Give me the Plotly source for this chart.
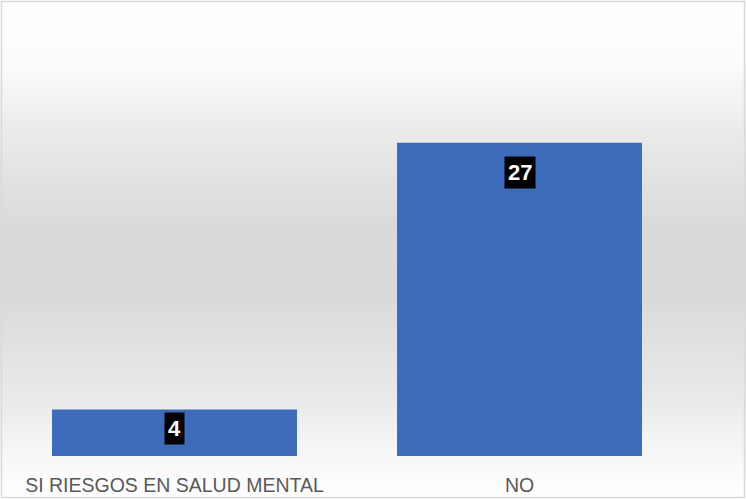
import plotly.graph_objects as go

categories = ["SI RIESGOS EN SALUD MENTAL", "NO"]
values = [4, 27]
label_shift = [-2, -13]

W, H = 746, 499
fig = go.Figure()
fig.add_trace(go.Bar(
    x=categories, y=values,
    marker=dict(color="#3d6bbb", line=dict(width=0)),
    hoverinfo="skip",
))

# background vertical gradient (paper coords, full figure)
stops = [(0, (255, 255, 255)), (60, (252, 252, 252)), (130, (235, 235, 235)),
         (230, (217, 217, 217)), (300, (218, 218, 218)), (400, (234, 234, 234)),
         (460, (248, 248, 248)), (499, (255, 255, 255))]

def col(py):
    for (a, ca), (b, cb) in zip(stops[:-1], stops[1:]):
        if a <= py <= b:
            t = (py - a) / (b - a)
            return "rgb(%d,%d,%d)" % tuple(round(ca[i] + (cb[i] - ca[i]) * t) for i in range(3))
    return "rgb(255,255,255)"

shapes = []
step = 4
for py in range(0, H, step):
    shapes.append(dict(type="rect", xref="paper", yref="paper", layer="below",
                       x0=0, x1=1, y0=1 - (py + step) / H, y1=1 - py / H,
                       fillcolor=col(py + step / 2), line=dict(width=0)))
shapes.append(dict(type="rect", xref="paper", yref="paper", layer="above",
                   x0=1.5 / W, x1=1 - 1.5 / W, y0=1.5 / H, y1=1 - 1.5 / H,
                   line=dict(color="#d9d9d9", width=1.5), fillcolor="rgba(0,0,0,0)"))

annotations = []
for c, v, s in zip(categories, values, label_shift):
    annotations.append(dict(x=c, y=v, xref="x", yref="y", yanchor="top", yshift=s,
                            text="<b>%d</b>" % v, showarrow=False,
                            font=dict(family="Liberation Sans", size=22, color="white"),
                            bgcolor="black", borderpad=3))

fig.update_layout(
    width=W, height=H,
    margin=dict(l=0, r=0, t=0, b=0),
    paper_bgcolor="white", plot_bgcolor="rgba(0,0,0,0)",
    showlegend=False, bargap=0.29,
    shapes=shapes, annotations=annotations,
    xaxis=dict(domain=[2 / W, 692 / W], showgrid=False, showline=False, ticks="",
               automargin=False, ticklabelstandoff=15,
               tickfont=dict(family="Liberation Sans", size=19.5, color="#595959")),
    yaxis=dict(domain=[(H - 456) / H, (H - 108) / H], range=[0, 30], visible=False,
               showgrid=False, automargin=False),
)
fig.write_html("out.html", config={"displayModeBar": False},
               post_script="document.body.style.margin='0';")
